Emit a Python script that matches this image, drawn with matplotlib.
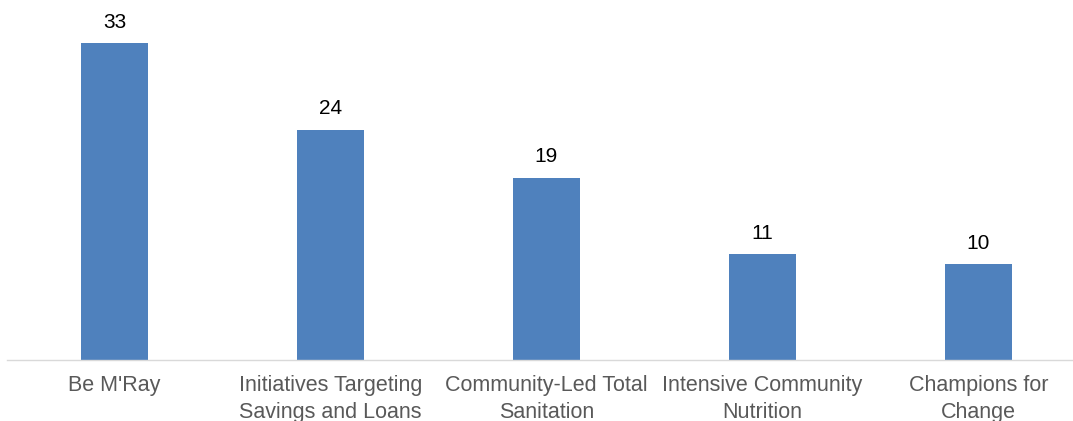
import matplotlib
matplotlib.use("Agg")
import matplotlib.pyplot as plt

categories = ["Be M'Ray", "Initiatives Targeting\nSavings and Loans", "Community-Led Total\nSanitation",
              "Intensive Community\nNutrition", "Champions for\nChange"]
values = [33, 24, 19, 11, 10]

plt.rcParams['font.family'] = ['Liberation Sans', 'DejaVu Sans']

W, H = 1073, 421
fig = plt.figure(figsize=(W / 100, H / 100), dpi=100)
ax = fig.add_axes([6.5 / W, (H - 360) / H, 1080 / W, 360 / H])
x = list(range(len(categories)))
bars = ax.bar(x, values, width=0.31, color='#4F81BD', zorder=2)
ax.set_xlim(-0.5, 4.5)
ax.set_ylim(0, 37.5)
for b, v in zip(bars, values):
    ax.annotate(str(v), (b.get_x() + b.get_width() / 2, v), xytext=(0, 8), textcoords='offset points',
                ha='center', va='bottom', fontsize=15, color='black')
ax.set_xticks(x)
ax.set_xticklabels(categories, fontsize=15.5, color='#595959', linespacing=1.33)
ax.tick_params(axis='x', length=0, pad=11)
ax.set_yticks([])
for s in ['top', 'left', 'right']:
    ax.spines[s].set_visible(False)
ax.spines['bottom'].set_color('#d9d9d9')
ax.spines['bottom'].set_linewidth(1.0)
fig.savefig('out.png', dpi=100)
